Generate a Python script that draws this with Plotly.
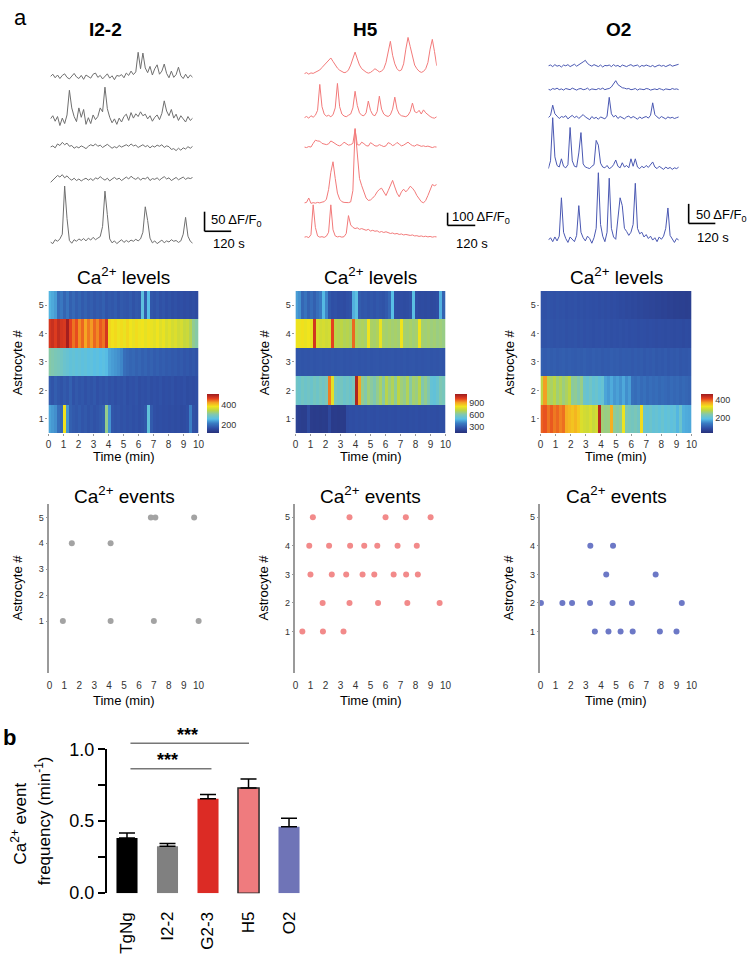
import plotly.graph_objects as go

W, H = 749, 957
FONT = "Liberation Sans, Arial, sans-serif"


def px(x):
    return x / W


def py(y):
    return 1 - y / H


# ------------------------------------------------------------------ DATA
trace_time_s = list(range(0, 601, 10))

i22_trace_1 = [0, 6, -3, 4, -5, 3, 7, -2, -6, 2, 8, -1, -5, 3, -7, 4, 1, -4, 6, 9, -2, 3, -6, 0, 7, -4, 2, -8, 3, 1,
               5, -3, 9, 3, 14, 5, 12, 62, 20, 60, 22, 10, 26, 4, 20, 30, 6, 14, 32, 8, -3, 14, -2, 5, 24, 2, -5, 6, -4, 4, -2]
i22_trace_2 = [2, 10, -4, 8, -15, 4, -10, 12, 75, 30, 8, -5, 30, 6, 26, -12, 5, -10, 12, 0, 8, 30, 20, 83, 28, 6, -8, 2, -12, 4,
               -6, 8, 14, -2, 18, 4, 15, 8, 20, 10, 14, 2, 10, -4, 6, 12, 0, 16, 48, 22, 10, 26, 4, 14, -2, 10, 2, -6, 8, -2, 4]
i22_trace_3 = [0, 3, -2, 8, 4, 12, 6, 10, 2, 4, -3, 1, -2, 3, 0, -4, 2, 6, 3, 8, 2, 5, -1, 4, 7, 2, -3, 1, -2, 4,
               0, 3, 6, 2, 8, 3, 5, -1, 2, 6, 1, 4, -2, 3, 0, 5, 2, 6, -1, 3, 1, -6, -4, -9, -3, -8, -2, -5, 1, -3, 2]
i22_trace_4 = [-8, -2, 4, 10, 6, 12, 4, 9, 2, -2, 3, -3, 1, -4, 0, 3, -2, 2, -3, 4, 1, 7, 2, -2, 3, -4, 1, 5, 0, 3,
               -3, 2, 6, 1, 8, 3, 0, 5, -2, 3, 1, 6, -3, 2, 0, 4, -2, 3, 7, 1, 4, -3, 2, 5, -1, 3, 6, 0, 4, 2, 5]
i22_trace_5 = [0, -4, 6, 2, 8, 20, 143, 60, 4, -3, 6, 2, 8, 4, 9, 3, 10, 5, 12, 6, 10, 14, 40, 130, 70, 8, -2, 3, -4, 2,
               6, -1, 4, 0, 5, 2, 7, 3, 8, 25, 90, 55, 10, -2, 3, -4, 1, 5, -2, 3, 0, 6, 2, 4, -1, 3, 20, 63, 15, 2, -3]

h5_trace_1 = [0, 8, -4, 6, 2, 10, 16, 30, 50, 70, 95, 110, 128, 100, 70, 45, 28, 16, 8, 12, 30, 70, 130, 176, 120, 70, 40, 22, 12, 4,
              10, 24, 40, 28, 14, 20, 40, 90, 180, 264, 150, 80, 40, 22, 30, 80, 200, 296, 220, 130, 70, 40, 20, 10, 18, 40, 90, 200, 280, 180, 64]
h5_trace_2 = [0, 10, -4, 16, 4, 20, 60, 272, 90, 30, 12, 20, 8, 24, 80, 280, 90, 30, 14, 8, 20, 30, 80, 216, 100, 40, 20, 16, 40, 136,
              60, 24, 16, 50, 176, 70, 30, 16, 10, 24, 70, 168, 70, 30, 16, 10, 8, 20, 50, 120, 50, 40, 60, 30, 64, 40, 24, 10, 0, -4, 8]
h5_trace_3 = [0, -4, 4, 0, 30, 56, 50, 48, 30, 24, 20, 26, 50, 40, 24, 16, 10, 20, 40, 30, 16, 20, 30, 144, 20, 16, 40, 28, 12, 8,
              36, 24, 10, 8, 20, 12, 4, 10, 36, 28, 12, 20, 38, 24, 10, 16, 30, 40, 24, 12, 8, 20, 14, 6, 10, 4, 8, 0, -4, 2, 0]
h5_trace_4 = [0, 4, 40, -4, 2, -2, 4, 0, 6, 10, 30, 110, 250, 336, 200, 80, 30, 10, 4, 0, 2, 8, 100, 608, 400, 200, 140, 80, 40, 20,
              24, 40, 60, 90, 110, 120, 90, 60, 100, 150, 184, 130, 80, 50, 90, 112, 90, 110, 136, 120, 96, 60, 30, 10, 0, 20, 60, 100, 150, 140, 150]
h5_trace_5 = [0, 4, -4, 20, 264, 80, 10, 0, 4, -2, 8, 40, 264, 60, 10, 2, 6, 0, 4, 30, 176, 100, 80, 70, 76, 64, 70, 60, 56, 64,
              50, 56, 48, 52, 40, 46, 38, 44, 36, 30, 34, 26, 30, 22, 26, 18, 22, 16, 14, 18, 10, 12, 6, 10, 4, 8, 2, 6, 0, 4, 2]

o2_trace_1 = [0, 2, -2, 3, -1, 1, -3, 2, 0, 3, -2, 1, 4, -1, 2, 6, 10, 14, 6, 2, -1, 3, 0, -2, 2, -3, 1, 0, 2, -2,
              3, -1, 1, -3, 2, 0, -2, 1, 3, -1, 0, 2, -3, 1, -1, 2, 0, -2, 1, -3, 0, 2, -1, 1, -2, 0, 3, -1, 1, 2, 4]
o2_trace_2 = [0, -2, 2, 0, 3, -1, 1, -2, 2, 0, -1, 3, 0, -2, 1, 2, -1, 0, 3, -2, 1, 0, -1, 2, 0, 3, -1, 1, 2, 6,
              14, 22, 12, 8, 4, 3, 1, 2, -1, 0, 2, -2, 1, 0, -1, 2, 1, -2, 0, 1, -1, 2, 0, -2, 1, 0, -1, 2, 0, 1, -1]
o2_trace_3 = [0, 6, 32, 10, 4, -2, 3, 1, 5, -3, 2, 6, 0, 4, -2, 3, 8, 2, -1, -5, 3, -2, 1, -4, 2, 0, -3, 4, 52, 10,
              2, 6, -2, 3, 0, -3, 2, 4, -1, 3, 0, -4, 2, -2, 1, 3, -1, 6, 38, 8, 2, -2, 3, 0, -3, 2, -1, 1, -2, 0, 2]
o2_trace_4 = [0, 20, 130, 30, 8, 4, 25, 6, 2, 10, 105, 20, 6, 4, 40, 92, 12, 4, 2, 0, 6, 10, 72, 60, 14, 4, 2, 8, 0, 3,
              10, 22, 6, 2, 15, 4, 8, 2, 25, 6, 25, 4, 0, 6, 2, 8, 3, 10, 17, 4, 0, 6, 2, -2, 4, 0, 3, -2, 2, 0, 4]
o2_trace_5 = [0, 6, -4, 8, -2, 10, 108, 20, 4, -6, 8, 2, -4, 12, 88, 20, 6, -2, 10, 4, -8, 6, 30, 172, 40, 10, -4, 20, 158, 30,
              8, 2, 60, 108, 88, 30, 22, 12, 20, 40, 145, 30, 16, 20, 8, 14, 4, 10, 0, 6, -4, 8, 2, 10, 30, 82, 12, 2, -6, 4, 0]

# heat maps: 50 bins of 0.2 min, rows are astrocytes 1..5
heat_time_min = [round(0.1 + 0.2 * i, 2) for i in range(50)]
astrocytes = [1, 2, 3, 4, 5]

i22_heat = [
    [245, 238, 232, 205, 198, 385, 235, 190, 184, 180, 186, 178, 182, 176, 180, 175, 178, 183, 190, 320, 235, 180, 176, 178, 174,
     177, 173, 176, 172, 175, 171, 174, 180, 272, 185, 173, 170, 172, 169, 171, 168, 170, 167, 169, 166, 168, 172, 222, 174, 170],
    [185, 178, 188, 180, 176, 184, 178, 190, 175, 182, 177, 180, 174, 179, 176, 181, 173, 178, 175, 180, 174, 177, 172, 176, 174,
     178, 171, 175, 173, 177, 170, 174, 172, 176, 170, 173, 171, 175, 169, 172, 170, 174, 168, 171, 169, 173, 167, 170, 168, 171],
    [310, 306, 300, 296, 290, 282, 278, 272, 276, 270, 274, 268, 272, 266, 270, 264, 268, 262, 266, 260, 245, 240, 236, 232, 226,
     205, 200, 195, 198, 192, 196, 190, 194, 188, 192, 186, 190, 185, 188, 183, 186, 182, 185, 180, 183, 178, 181, 177, 180, 176],
    [470, 478, 465, 482, 472, 468, 500, 460, 440, 455, 430, 445, 420, 438, 425, 445, 432, 450, 440, 470, 392, 385, 390, 380, 388,
     378, 392, 383, 376, 388, 380, 384, 375, 386, 378, 372, 382, 370, 378, 365, 372, 362, 368, 358, 364, 352, 356, 340, 318, 310],
    [255, 248, 240, 205, 215, 195, 210, 190, 200, 188, 195, 185, 192, 183, 188, 180, 186, 182, 190, 178, 184, 180, 186, 177, 183,
     180, 178, 185, 176, 182, 179, 268, 188, 262, 180, 176, 182, 174, 178, 172, 176, 170, 174, 169, 172, 168, 171, 167, 170, 166],
]
h5_heat = [
    [215, 205, 198, 200, 245, 196, 192, 194, 190, 195, 193, 240, 188, 192, 186, 190, 188, 255, 262, 258, 265, 260, 263, 258, 266,
     261, 259, 264, 260, 262, 258, 263, 261, 259, 264, 260, 262, 258, 263, 260, 265, 259, 262, 258, 264, 260, 262, 257, 263, 260],
    [560, 545, 570, 552, 565, 548, 575, 555, 580, 560, 590, 940, 780, 585, 560, 575, 550, 565, 545, 580, 1085, 900, 640, 610, 660,
     625, 600, 640, 680, 620, 700, 650, 690, 630, 710, 660, 640, 690, 620, 670, 650, 700, 610, 640, 600, 530, 520, 545, 600, 580],
    [280, 282, 278, 281, 279, 283, 277, 280, 282, 278, 281, 279, 283, 277, 280, 282, 278, 281, 279, 280, 282, 278, 281, 279, 283,
     277, 280, 282, 278, 281, 279, 280, 282, 278, 281, 279, 283, 277, 280, 282, 278, 281, 279, 280, 282, 278, 281, 279, 283, 277],
    [800, 795, 810, 790, 805, 785, 1030, 760, 745, 755, 740, 750, 1000, 705, 695, 710, 690, 700, 685, 960, 690, 675, 685, 670, 800,
     680, 672, 688, 790, 676, 668, 680, 665, 674, 662, 800, 670, 664, 676, 660, 670, 800, 668, 660, 672, 655, 665, 650, 660, 648],
    [440, 420, 330, 360, 315, 345, 310, 350, 380, 485, 400, 285, 265, 270, 258, 262, 255, 268, 275, 470, 505, 300, 282, 290, 278,
     285, 276, 288, 280, 274, 292, 330, 495, 262, 255, 258, 252, 256, 270, 500, 262, 250, 254, 248, 252, 246, 250, 258, 475, 320],
]
o2_heat = [
    [398, 405, 390, 402, 388, 396, 384, 392, 362, 355, 348, 358, 345, 308, 300, 296, 305, 292, 300, 445, 262, 255, 258, 362, 248,
     242, 250, 322, 235, 228, 222, 230, 218, 332, 210, 204, 212, 200, 206, 198, 208, 196, 202, 195, 200, 180, 210, 176, 172, 170],
    [285, 372, 278, 268, 282, 262, 275, 258, 270, 285, 245, 250, 238, 255, 212, 205, 218, 202, 210, 198, 205, 168, 160, 172, 158,
     165, 155, 170, 152, 162, 125, 120, 128, 118, 124, 115, 122, 117, 120, 114, 119, 116, 112, 118, 113, 117, 110, 115, 112, 108],
    [104, 100, 103, 99, 102, 98, 101, 103, 99, 102, 100, 98, 101, 99, 103, 100, 98, 102, 99, 101, 97, 100, 98, 102, 99,
     101, 97, 100, 98, 99, 96, 100, 97, 99, 95, 98, 96, 99, 94, 97, 95, 98, 93, 96, 94, 97, 92, 95, 93, 96],
    [90, 88, 91, 89, 87, 90, 88, 89, 86, 88, 87, 89, 86, 88, 85, 87, 86, 84, 86, 85, 87, 84, 86, 83, 85,
     84, 86, 83, 85, 82, 84, 83, 81, 83, 82, 80, 82, 81, 79, 81, 80, 78, 80, 79, 77, 79, 78, 76, 78, 77],
    [88, 86, 89, 87, 85, 88, 86, 87, 84, 86, 85, 87, 84, 86, 83, 85, 84, 82, 84, 81, 83, 80, 82, 79, 81,
     78, 76, 77, 74, 75, 72, 73, 70, 71, 68, 69, 66, 67, 64, 65, 62, 63, 60, 61, 58, 59, 57, 58, 56, 57],
]

# Ca2+ events: event times (min) for astrocytes 1..5
i22_events = [[0.9, 4.1, 7.0, 10.0], [], [], [1.5, 4.1], [6.8, 7.1, 9.7]]
h5_events = [[0.46, 1.83, 3.2], [1.81, 3.6, 5.5, 7.45, 9.6], [1.0, 2.42, 3.38, 4.47, 5.25, 6.54, 7.37, 8.15],
             [0.92, 2.24, 3.64, 4.58, 5.45, 6.8, 8.08], [1.16, 3.6, 6.0, 7.35, 9.0]]
o2_events = [[3.6, 4.5, 5.3, 6.1, 7.9, 9.0], [0.03, 1.45, 2.09, 3.28, 4.77, 6.05, 9.35], [4.35, 7.62], [3.3, 4.8], []]

# bar chart
bar_groups = ["TgNg", "I2-2", "G2-3", "H5", "O2"]
bar_freq = [0.384, 0.325, 0.656, 0.731, 0.461]
bar_sem = [0.034, 0.020, 0.030, 0.062, 0.059]

# ------------------------------------------------------------------ STYLE / LAYOUT CONSTANTS
GRAY_T, RED_T, BLUE_T = "#6f6f6f", "#f27a7a", "#4a58b2"
JET = [[0.0, "#27307a"], [0.12, "#2f4ea4"], [0.25, "#3a7cc3"], [0.36, "#58bfe6"], [0.48, "#82c8ad"],
       [0.58, "#bcd545"], [0.68, "#f1e41c"], [0.78, "#f5a423"], [0.88, "#e5401f"], [1.0, "#9b1b1f"]]

fig = go.Figure()
axes = {}
annotations = []
shapes = []


def refs(n):
    return ("x" if n == 1 else f"x{n}"), ("y" if n == 1 else f"y{n}")


def set_axes(n, xd, yd, xa, ya):
    xr, yr = refs(n)
    xa = dict(xa, domain=[px(xd[0]), px(xd[1])], anchor=yr)
    ya = dict(ya, domain=[py(yd[1]), py(yd[0])], anchor=xr)
    axes["xaxis" if n == 1 else f"xaxis{n}"] = xa
    axes["yaxis" if n == 1 else f"yaxis{n}"] = ya


def text(x, y, s, size, color="black", angle=0, xanchor="center", yanchor="middle"):
    annotations.append(dict(x=px(x), y=py(y), xref="paper", yref="paper", text=s, showarrow=False,
                            font=dict(size=size, color=color, family=FONT), textangle=angle,
                            xanchor=xanchor, yanchor=yanchor))


def line(x0, y0, x1, y1, color="black", width=1.5):
    shapes.append(dict(type="line", xref="paper", yref="paper", x0=px(x0), y0=py(y0), x1=px(x1), y1=py(y1),
                       line=dict(color=color, width=width)))


# ---------------- traces (row of raw ΔF/F0 traces)
trace_panels = [
    dict(name="I2-2", data=[i22_trace_1, i22_trace_2, i22_trace_3, i22_trace_4, i22_trace_5], color=GRAY_T,
         x=(48, 192), base=[68, 112, 140, 173, 237], upp=2.5, title_x=104,
         bar=(204, 226, 20, 27), lab1="50 ΔF/F<sub>0</sub>", lab1_xy=(209, 215), lab2_xy=(211, 238)),
    dict(name="H5", data=[h5_trace_1, h5_trace_2, h5_trace_3, h5_trace_4, h5_trace_5], color=RED_T,
         x=(305, 439), base=[65, 110, 140, 197, 232], upp=8.0, title_x=367,
         bar=(450, 220, 13, 28), lab1="100 ΔF/F<sub>0</sub>", lab1_xy=(452, 212), lab2_xy=(456, 238)),
    dict(name="O2", data=[o2_trace_1, o2_trace_2, o2_trace_3, o2_trace_4, o2_trace_5], color=BLUE_T,
         x=(552, 684), base=[57, 81, 110, 162, 235], upp=2.5, title_x=623,
         bar=(694, 218, 20, 27), lab1="50 ΔF/F<sub>0</sub>", lab1_xy=(699, 210), lab2_xy=(700, 232)),
]
TOP, BOT = 15, 250
for i, p in enumerate(trace_panels):
    n = i + 1
    xr, yr = refs(n)
    for k, series in enumerate(p["data"]):
        off = (BOT - p["base"][k]) * p["upp"]
        fig.add_trace(go.Scatter(x=trace_time_s, y=[v + off for v in series], mode="lines",
                                 line=dict(color=p["color"], width=1), xaxis=xr, yaxis=yr,
                                 showlegend=False, hoverinfo="skip"))
    set_axes(n, p["x"], (TOP, BOT), dict(range=[0, 600], visible=False),
             dict(range=[0, (BOT - TOP) * p["upp"]], visible=False))
    text(p["title_x"], 20, f"<b>{p['name']}</b>", 19)
    bx, by, bh, bw = p["bar"]
    line(bx, by - bh, bx, by, width=1.6)
    line(bx, by, bx + bw, by, width=1.6)
    text(p["lab1_xy"][0], p["lab1_xy"][1], p["lab1"], 13, xanchor="left")
    text(p["lab2_xy"][0], p["lab2_xy"][1], "120 s", 13, xanchor="left")

text(18, 8, "a", 22)

# ---------------- heat maps
heat_panels = [
    dict(z=i22_heat, x=(46, 198), zr=(125, 505), cb_x=206, ticks=[200, 400]),
    dict(z=h5_heat, x=(296, 448), zr=(145, 1115), cb_x=457, ticks=[300, 600, 900]),
    dict(z=o2_heat, x=(544, 697), zr=(30, 465), cb_x=706, ticks=[200, 400]),
]
tick_font = dict(size=10, color="#333", family=FONT)
for i, p in enumerate(heat_panels):
    n = 4 + i
    xr, yr = refs(n)
    fig.add_trace(go.Heatmap(z=p["z"], x=heat_time_min, y=astrocytes, colorscale=JET,
                             zmin=p["zr"][0], zmax=p["zr"][1], xaxis=xr, yaxis=yr, hoverinfo="skip",
                             colorbar=dict(x=px(p["cb_x"]), xanchor="left", y=py(432), yanchor="bottom",
                                           len=39, lenmode="pixels", thickness=12, thicknessmode="pixels",
                                           xpad=0, ypad=0, outlinewidth=0, tickvals=p["ticks"], ticks="",
                                           tickfont=dict(size=9, color="#333", family=FONT))))
    set_axes(n, p["x"], (287, 432),
             dict(range=[0, 10], tickvals=list(range(11)), ticks="outside", ticklen=2, tickcolor="#999",
                  showline=False, showgrid=False, zeroline=False, tickfont=tick_font),
             dict(range=[0.5, 5.5], tickvals=astrocytes, ticks="outside", ticklen=2, tickcolor="#999",
                  showline=False, showgrid=False, zeroline=False, tickfont=dict(size=9, color="#333", family=FONT)))
    cx = (p["x"][0] + p["x"][1]) / 2
    text(cx, 272, "Ca<sup>2+</sup> levels", 19)
    text(cx, 456, "Time (min)", 13)
    text(p["x"][0] - 31, 360, "Astrocyte #", 13, angle=-90)

# ---------------- events
event_panels = [
    dict(ev=i22_events, color="#a3a3a3", x=(47, 198), yr=[-1.0, 5.5]),
    dict(ev=h5_events, color="#f28a8a", x=(296, 448), yr=[-0.45, 5.45]),
    dict(ev=o2_events, color="#6c78c6", x=(544, 697), yr=[-0.45, 5.45]),
]
for i, p in enumerate(event_panels):
    n = 7 + i
    xr, yr = refs(n)
    xs, ys = [], []
    for a, times in zip(astrocytes, p["ev"]):
        xs += times
        ys += [a] * len(times)
    fig.add_trace(go.Scatter(x=xs, y=ys, mode="markers", marker=dict(color=p["color"], size=6),
                             xaxis=xr, yaxis=yr, showlegend=False, hoverinfo="skip", cliponaxis=False))
    set_axes(n, p["x"], (505, 677),
             dict(range=[0, 10], tickvals=list(range(11)), ticks="", showline=False, showgrid=False,
                  zeroline=False, tickfont=tick_font, ticklabelstandoff=5),
             dict(range=p["yr"], tickvals=astrocytes, ticks="outside", ticklen=2, tickcolor="#999",
                  showline=True, linecolor="#9a9a9a", linewidth=1.5, showgrid=False, zeroline=False,
                  tickfont=dict(size=9, color="#333", family=FONT)))
    cx = (p["x"][0] + p["x"][1]) / 2
    text(cx, 495, "Ca<sup>2+</sup> events", 19)
    text(cx, 705, "Time (min)", 13)
    text(p["x"][0] - 32, 590, "Astrocyte #", 13, angle=-90)

# ---------------- bar chart
DY = 3
fig.add_trace(go.Bar(x=bar_groups, y=bar_freq, width=0.52,
                     marker=dict(color=["#000000", "#808080", "#dc2b25", "#ef7b7e", "#6f74b7"],
                                 line=dict(color=["#000000", "#808080", "#dc2b25", "#2a2a2a", "#6f74b7"],
                                           width=[0, 0, 0, 1.5, 0])),
                     error_y=dict(type="data", array=bar_sem, arrayminus=[0] * 5, symmetric=False,
                                  color="black", thickness=1.5, width=8),
                     xaxis="x10", yaxis="y10", showlegend=False, hoverinfo="skip"))
set_axes(10, (105, 310), (752 + DY, 899 + DY),
         dict(range=[-0.5, 4.5], showticklabels=False, ticks="", showline=False, showgrid=False, zeroline=False),
         dict(range=[0, 1.0], tickvals=[0, 0.25, 0.5, 0.75, 1.0], ticktext=["0.0", "", "0.5", "", "1.0"],
              ticks="outside", ticklen=7, tickwidth=1.5, tickcolor="black", showline=True, linecolor="black",
              linewidth=1.5, showgrid=False, zeroline=False, tickfont=dict(size=18, color="black", family=FONT)))
for j, g in enumerate(bar_groups):
    text(125.5 + 41 * j, 916 + DY, g, 17, angle=-90, yanchor="top")
text(16, 828 + DY, "Ca<sup>2+</sup> event", 17, angle=-90)
text(40, 825 + DY, "frequency (min<sup>-1</sup>)", 17, angle=-90)
line(129, 746 + DY, 249, 746 + DY, color="#777", width=1.5)
line(129, 772 + DY, 211, 772 + DY, color="#777", width=1.5)
text(187, 737 + DY, "<b>***</b>", 18)
text(167, 763 + DY, "<b>***</b>", 18)
text(7, 740 + DY, "<b>b</b>", 22)

fig.update_layout(width=W, height=H, margin=dict(l=0, r=0, t=0, b=0), paper_bgcolor="white",
                  plot_bgcolor="white", font=dict(family=FONT, color="black"), showlegend=False,
                  annotations=annotations, shapes=shapes, **axes)

fig.write_html("out.html", config={"displayModeBar": False},
               post_script="document.body.style.margin='0';")
